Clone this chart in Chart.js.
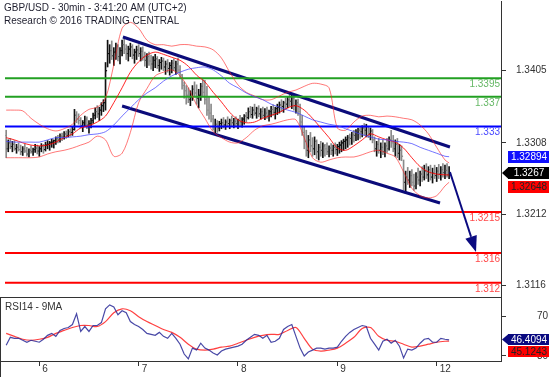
<!DOCTYPE html>
<html><head><meta charset="utf-8">
<script src="https://cdn.jsdelivr.net/npm/chart.js@4.4.1/dist/chart.umd.min.js"></script>
<style>
html,body{margin:0;padding:0;background:#fff;}
#wrap{position:relative;width:554px;height:377px;overflow:hidden;background:#fff;}
#c1{position:absolute;left:0;top:0;}
#c2{position:absolute;left:0;top:297px;}
</style></head><body>
<div id="wrap"><canvas id="c1" width="554" height="297"></canvas><canvas id="c2" width="554" height="80"></canvas></div>
<script>
// ---------- data ----------
const dayIdx = [16, 64, 112, 160, 208];
const dayLabels = ['6', '7', '8', '9', '12'];
const yTicksMain = [1.3116, 1.3212, 1.3308, 1.3405];
const yTicksRsi = [30, 70];
const firstOpen = 1.3318;
const hi = [
1.3325,1.3312,1.3314,1.3310,1.3311,1.3306,1.3308,1.3305,1.3303,1.3306,
1.3302,1.3300,1.3304,1.3301,1.3306,1.3305,1.3303,1.3307,1.3306,1.3309,
1.3311,1.3310,1.3313,1.3312,1.3316,1.3318,1.3320,1.3321,1.3323,1.3324,
1.3326,1.3327,1.3329,1.3353,1.3350,1.3347,1.3342,1.3338,1.3344,1.3343,
1.3338,1.3341,1.3348,1.3355,1.3358,1.3356,1.3362,1.3366,1.3416,1.3446,
1.3440,1.3445,1.3436,1.3442,1.3440,1.3436,1.3446,1.3447,1.3440,1.3438,
1.3442,1.3440,1.3434,1.3438,1.3440,1.3436,1.3437,1.3430,1.3428,1.3430,
1.3426,1.3424,1.3427,1.3424,1.3420,1.3423,1.3422,1.3418,1.3420,1.3416,
1.3419,1.3421,1.3418,1.3422,1.3412,1.3400,1.3390,1.3385,1.3382,1.3378,
1.3385,1.3390,1.3386,1.3380,1.3388,1.3393,1.3392,1.3384,1.3370,1.3360,
1.3345,1.3340,1.3338,1.3337,1.3340,1.3342,1.3339,1.3343,1.3340,1.3344,
1.3341,1.3343,1.3340,1.3345,1.3342,1.3346,1.3349,1.3355,1.3357,1.3356,
1.3360,1.3356,1.3358,1.3354,1.3356,1.3354,1.3356,1.3352,1.3357,1.3359,
1.3356,1.3360,1.3363,1.3366,1.3364,1.3368,1.3370,1.3375,1.3372,1.3371,
1.3366,1.3367,1.3360,1.3345,1.3330,1.3325,1.3318,1.3322,1.3315,1.3316,
1.3312,1.3306,1.3310,1.3308,1.3306,1.3308,1.3304,1.3307,1.3305,1.3308,
1.3306,1.3309,1.3311,1.3313,1.3316,1.3318,1.3320,1.3322,1.3325,1.3326,
1.3328,1.3330,1.3331,1.3334,1.3333,1.3330,1.3328,1.3326,1.3316,1.3310,
1.3314,1.3308,1.3312,1.3308,1.3314,1.3316,1.3325,1.3318,1.3312,1.3314,
1.3306,1.3304,1.3285,1.3270,1.3275,1.3270,1.3272,1.3266,1.3268,1.3274,
1.3270,1.3276,1.3278,1.3280,1.3276,1.3278,1.3274,1.3278,1.3275,1.3279,
1.3276,1.3280,1.3278,1.3280,1.3276];
const lo = [
1.3288,1.3296,1.3300,1.3296,1.3298,1.3294,1.3297,1.3292,1.3291,1.3295,
1.3290,1.3289,1.3294,1.3291,1.3295,1.3293,1.3290,1.3296,1.3294,1.3297,
1.3300,1.3298,1.3302,1.3301,1.3306,1.3308,1.3309,1.3311,1.3313,1.3314,
1.3316,1.3317,1.3318,1.3325,1.3335,1.3333,1.3328,1.3323,1.3330,1.3327,
1.3321,1.3328,1.3334,1.3340,1.3342,1.3338,1.3345,1.3350,1.3352,1.3410,
1.3415,1.3420,1.3412,1.3420,1.3418,1.3414,1.3425,1.3428,1.3420,1.3418,
1.3424,1.3421,1.3415,1.3420,1.3424,1.3418,1.3419,1.3411,1.3409,1.3412,
1.3407,1.3405,1.3409,1.3408,1.3404,1.3407,1.3405,1.3400,1.3403,1.3399,
1.3402,1.3405,1.3400,1.3402,1.3395,1.3380,1.3368,1.3360,1.3362,1.3358,
1.3365,1.3370,1.3360,1.3355,1.3365,1.3370,1.3360,1.3345,1.3340,1.3336,
1.3325,1.3321,1.3322,1.3324,1.3327,1.3328,1.3326,1.3330,1.3327,1.3331,
1.3328,1.3330,1.3327,1.3331,1.3329,1.3333,1.3336,1.3340,1.3342,1.3341,
1.3345,1.3341,1.3343,1.3340,1.3342,1.3339,1.3341,1.3337,1.3343,1.3345,
1.3340,1.3346,1.3348,1.3350,1.3349,1.3353,1.3355,1.3357,1.3354,1.3352,
1.3348,1.3345,1.3330,1.3318,1.3300,1.3290,1.3288,1.3296,1.3290,1.3292,
1.3287,1.3285,1.3290,1.3288,1.3290,1.3292,1.3289,1.3292,1.3290,1.3293,
1.3291,1.3294,1.3296,1.3298,1.3300,1.3302,1.3305,1.3306,1.3309,1.3311,
1.3312,1.3314,1.3316,1.3318,1.3316,1.3315,1.3312,1.3308,1.3296,1.3290,
1.3294,1.3288,1.3292,1.3289,1.3295,1.3298,1.3302,1.3296,1.3290,1.3288,
1.3285,1.3284,1.3245,1.3240,1.3252,1.3248,1.3250,1.3244,1.3246,1.3252,
1.3250,1.3256,1.3258,1.3260,1.3256,1.3258,1.3254,1.3260,1.3256,1.3260,
1.3258,1.3262,1.3260,1.3262,1.3260];
const cl = [
1.3300,1.3308,1.3303,1.3306,1.3300,1.3302,1.3299,1.3296,1.3300,1.3297,
1.3293,1.3298,1.3296,1.3299,1.3301,1.3297,1.3300,1.3304,1.3299,1.3305,
1.3306,1.3308,1.3309,1.3311,1.3314,1.3312,1.3317,1.3316,1.3320,1.3318,
1.3323,1.3322,1.3326,1.3345,1.3340,1.3338,1.3331,1.3335,1.3340,1.3332,
1.3334,1.3338,1.3345,1.3350,1.3347,1.3352,1.3358,1.3362,1.3405,1.3428,
1.3432,1.3425,1.3430,1.3438,1.3424,1.3432,1.3440,1.3434,1.3428,1.3434,
1.3437,1.3426,1.3430,1.3433,1.3428,1.3431,1.3424,1.3419,1.3424,1.3418,
1.3414,1.3419,1.3421,1.3412,1.3416,1.3418,1.3410,1.3414,1.3408,1.3412,
1.3415,1.3409,1.3414,1.3406,1.3399,1.3385,1.3378,1.3372,1.3366,1.3370,
1.3380,1.3375,1.3368,1.3372,1.3384,1.3376,1.3366,1.3352,1.3348,1.3340,
1.3330,1.3333,1.3328,1.3334,1.3335,1.3332,1.3336,1.3334,1.3338,1.3335,
1.3337,1.3334,1.3338,1.3336,1.3340,1.3344,1.3342,1.3350,1.3346,1.3352,
1.3348,1.3354,1.3347,1.3350,1.3345,1.3348,1.3344,1.3350,1.3353,1.3349,
1.3354,1.3356,1.3359,1.3357,1.3362,1.3360,1.3366,1.3364,1.3368,1.3358,
1.3362,1.3350,1.3336,1.3322,1.3310,1.3298,1.3312,1.3304,1.3300,1.3310,
1.3296,1.3302,1.3298,1.3304,1.3300,1.3296,1.3301,1.3298,1.3302,1.3299,
1.3303,1.3305,1.3308,1.3310,1.3312,1.3315,1.3314,1.3319,1.3318,1.3322,
1.3325,1.3323,1.3328,1.3325,1.3330,1.3320,1.3324,1.3312,1.3300,1.3306,
1.3298,1.3302,1.3296,1.3304,1.3300,1.3312,1.3308,1.3300,1.3306,1.3294,
1.3298,1.3290,1.3255,1.3262,1.3258,1.3264,1.3255,1.3250,1.3262,1.3258,
1.3266,1.3262,1.3270,1.3265,1.3272,1.3262,1.3268,1.3264,1.3270,1.3266,
1.3272,1.3268,1.3271,1.3265,1.3267];

// indicator samples (every 4 bars, last one at the final bar)
const bandIdx = [0,4,8,12,16,20,24,28,32,36,40,44,48,52,56,60,64,68,72,76,80,84,88,92,96,100,104,108,112,116,120,124,128,132,136,140,144,148,152,156,160,164,168,172,176,180,184,188,192,196,200,204,208,212,214];
const bbUpper = [
1.3352,1.3352,1.3351,1.3341,1.3333,1.3327,1.3324,1.3327,1.3333,1.3345,
1.3353,1.3356,1.3368,1.3413,1.3462,1.3470,1.3462,1.3446,1.3440,1.3440,
1.3438,1.3440,1.3440,1.3438,1.3437,1.3433,1.3422,1.3403,1.3386,1.3376,
1.3371,1.3366,1.3366,1.3371,1.3376,1.3379,1.3384,1.3388,1.3387,1.3382,
1.3328,1.3325,1.3336,1.3344,1.3345,1.3343,1.3344,1.3343,1.3341,1.3339,
1.3332,1.3320,1.3302,1.3285,1.3281];
const bbMiddle = [
1.3315,1.3312,1.3308,1.3305,1.3304,1.3305,1.3309,1.3315,1.3320,1.3328,
1.3331,1.3336,1.3344,1.3362,1.3382,1.3403,1.3417,1.3426,1.3430,1.3427,
1.3423,1.3419,1.3411,1.3399,1.3390,1.3376,1.3363,1.3349,1.3339,1.3335,
1.3336,1.3341,1.3345,1.3349,1.3355,1.3358,1.3352,1.3341,1.3328,1.3315,
1.3301,1.3298,1.3304,1.3312,1.3320,1.3316,1.3312,1.3309,1.3301,1.3288,
1.3276,1.3269,1.3266,1.3265,1.32648];
const bbLower = [
1.3288,1.3288,1.3288,1.3288,1.3289,1.3293,1.3296,1.3298,1.3301,1.3305,
1.3309,1.3317,1.3312,1.3290,1.3294,1.3322,1.3362,1.3381,1.3398,1.3403,
1.3406,1.3398,1.3382,1.3359,1.3341,1.3323,1.3315,1.3309,1.3308,1.3315,
1.3325,1.3331,1.3333,1.3336,1.3339,1.3339,1.3315,1.3288,1.3282,1.3285,
1.3288,1.3289,1.3289,1.3292,1.3296,1.3298,1.3294,1.3289,1.3269,1.3247,
1.3237,1.3234,1.3237,1.3250,1.3255];
const maLine = [
1.3310,1.3309,1.3309,1.3309,1.3309,1.3312,1.3315,1.3315,1.3316,1.3317,
1.3319,1.3320,1.3323,1.3332,1.3344,1.3355,1.3366,1.3375,1.3382,1.3391,
1.3398,1.3403,1.3407,1.3409,1.3410,1.3406,1.3398,1.3388,1.3382,1.3375,
1.3370,1.3366,1.3360,1.3356,1.3352,1.3349,1.3344,1.3339,1.3336,1.3333,
1.3331,1.3327,1.3323,1.3319,1.3316,1.3313,1.3312,1.3310,1.3309,1.3307,
1.3302,1.3298,1.3294,1.3290,1.32894];

// support / resistance levels
const levelValues = [1.3395, 1.337, 1.333, 1.3215, 1.316, 1.312];
const levelLabels = ['1.3395', '1.337', '1.333', '1.3215', '1.316', '1.312'];
// channel lines (bar index, price)
const channelUpper = [{x: 56.4, y: 1.34503}, {x: 214.4, y: 1.33024}];
const channelLower = [{x: 56.0, y: 1.33575}, {x: 209.6, y: 1.32272}];
// projected move arrow
const arrowFrom = {x: 214.4, y: 1.32688};
const arrowTo = {x: 227.0, y: 1.31613};

// RSI (every 2 bars) and its 9MA (every 4 bars, same sampling as bands)
const rsiStep = 2;
const rsi = [
41,49,48,48,46,44,46,45,44,47,
51,53,50,56,58,59,62,73,55,60,
55,61,61,64,78,82,80,72,76,74,
65,62,60,57,53,52,51,54,50,48,
53,48,42,32,27,38,36,43,38,36,
33,31,35,37,38,39,40,42,46,49,
52,51,48,51,44,45,48,57,60,62,
50,38,30,34,36,38,38,37,38,38,
39,45,50,54,57,59,61,60,48,42,
36,45,47,43,46,40,28,37,36,38,
43,47,48,44,44,48,47,46.4094];
const rsiMa = [
53,50,47,46,47,49,53,56,59,61,
61,60,65,74,78,76,70,65,61,57,
54,49,42,37,36,37,39,40,43,46,
49,51,52,52,56,59,48,37,35,36,
38,43,49,58,59,50,46,45,42,39,
40,42,44,45,45.1243];

// ---------- drawing ----------
const FONT = '"Liberation Sans", Arial, Helvetica, sans-serif';
Chart.defaults.font.family = FONT;
Chart.defaults.font.size = 10;
Chart.defaults.color = '#333';

const xMin = -0.57, xMax = 239.07;
const opens = cl.map((c, i) => i === 0 ? firstOpen : cl[i - 1]);
const barColors = cl.map((c, i) => c >= opens[i] ? '#111' : '#8a8a8a');
const pts = (xs, ys) => ys.map((v, k) => ({x: xs[k], y: v}));
const rsiIdx = rsi.map((v, k) => k * rsiStep);
const levelColors = ['#22a022', '#22a022', '#0000ff', '#ff0000', '#ff0000', '#ff0000'];
const levelTextColors = ['#66b866', '#66b866', '#4a4aff', '#ff4a4a', '#ff4a4a', '#ff4a4a'];

function noPad(s) { s.paddingTop = 0; s.paddingBottom = 0; s.paddingLeft = 0; s.paddingRight = 0; }

function box(ctx, text, yc, h, bg, fg, arrow) {
  const left = 508, right = 549;
  const top = Math.round(yc - h / 2);
  ctx.fillStyle = bg;
  ctx.fillRect(left, top, right - left, h);
  if (arrow) {
    ctx.beginPath();
    ctx.moveTo(502, top + h / 2);
    ctx.lineTo(left + 0.5, top);
    ctx.lineTo(left + 0.5, top + h);
    ctx.closePath();
    ctx.fill();
  }
  ctx.fillStyle = fg;
  ctx.font = '10px ' + FONT;
  ctx.textAlign = 'center';
  ctx.textBaseline = 'middle';
  ctx.fillText(text, (left + right) / 2 + 0.5, top + h / 2 + 0.5);
  return top + h;
}

const ohlcTicks = {
  id: 'ohlcTicks',
  afterDatasetDraw(chart, args) {
    if (args.index !== 0) return;
    const {ctx, scales: {x, y}, chartArea: a} = chart;
    ctx.save();
    ctx.beginPath(); ctx.rect(a.left, a.top, a.right - a.left, a.bottom - a.top); ctx.clip();
    for (let i = 0; i < cl.length; i++) {
      const px = x.getPixelForValue(i);
      ctx.fillStyle = barColors[i];
      ctx.fillRect(px - 1.5, y.getPixelForValue(opens[i]) - 0.5, 1, 1);
      ctx.fillRect(px + 0.5, y.getPixelForValue(cl[i]) - 0.5, 1, 1);
    }
    ctx.restore();
  }
};

const mainDecor = {
  id: 'mainDecor',
  afterDatasetsDraw(chart) {
    const {ctx, scales: {x, y}, chartArea: a} = chart;
    ctx.save();
    ctx.font = '10px ' + FONT;
    ctx.textAlign = 'right';
    ctx.textBaseline = 'alphabetic';
    levelValues.forEach((v, k) => {
      ctx.fillStyle = levelTextColors[k];
      ctx.fillText(levelLabels[k], a.right - 1, y.getPixelForValue(v) + 9);
    });
    const x0 = x.getPixelForValue(arrowFrom.x), y0 = y.getPixelForValue(arrowFrom.y);
    const x1 = x.getPixelForValue(arrowTo.x), y1 = y.getPixelForValue(arrowTo.y);
    const ang = Math.atan2(y1 - y0, x1 - x0);
    const hl = 16, hw = 6;
    const bx = x1 - hl * Math.cos(ang), by = y1 - hl * Math.sin(ang);
    ctx.strokeStyle = '#0a0a80';
    ctx.fillStyle = '#0a0a80';
    ctx.lineWidth = 2;
    ctx.beginPath(); ctx.moveTo(x0, y0); ctx.lineTo(bx, by); ctx.stroke();
    ctx.beginPath();
    ctx.moveTo(x1, y1);
    ctx.lineTo(bx + hw * Math.sin(ang), by - hw * Math.cos(ang));
    ctx.lineTo(bx - hw * Math.sin(ang), by + hw * Math.cos(ang));
    ctx.closePath(); ctx.fill();
    ctx.restore();
  },
  afterDraw(chart) {
    const {ctx, scales: {y}} = chart;
    ctx.save();
    ctx.font = '10px ' + FONT;
    ctx.fillStyle = '#1e1e2e';
    ctx.textAlign = 'left';
    ctx.textBaseline = 'alphabetic';
    ctx.fillText('GBP/USD - 30min - 3:41:20 AM (UTC+2)', 4, 11);
    ctx.fillText('Research \u00A9 2016 TRADING CENTRAL', 4, 24);
    const lastMa = maLine[maLine.length - 1];
    const lastCl = cl[cl.length - 1];
    const lastMid = bbMiddle[bbMiddle.length - 1];
    box(ctx, lastMa.toFixed(5), y.getPixelForValue(lastMa), 12, '#1010ff', '#fff', false);
    const bBottom = box(ctx, lastCl.toFixed(4), y.getPixelForValue(lastCl), 12, '#000', '#fff', true);
    box(ctx, lastMid.toFixed(5), bBottom + 2 + 6, 12, '#ff0000', '#222', false);
    ctx.restore();
  }
};

const lineDs = (data, color, width, extra) => Object.assign({
  type: 'line', data, borderColor: color, borderWidth: width, pointRadius: 0,
  fill: false, tension: 0.3, order: 1
}, extra || {});

new Chart(document.getElementById('c1'), {
  type: 'line',
  data: {
    datasets: [
      {type: 'bar', data: hi.map((h, i) => ({x: i, y: [lo[i], h]})), backgroundColor: barColors,
       barThickness: 1, borderWidth: 0, order: 10},
      lineDs(pts(bandIdx, maLine), 'rgba(70,70,255,0.75)', 1),
      lineDs(pts(bandIdx, bbUpper), 'rgba(255,30,30,0.6)', 1),
      lineDs(pts(bandIdx, bbLower), 'rgba(255,30,30,0.6)', 1),
      lineDs(pts(bandIdx, bbMiddle), 'rgba(255,0,0,0.85)', 1),
      ...levelValues.map((v, k) => lineDs([{x: xMin, y: v}, {x: xMax, y: v}], levelColors[k], 2, {tension: 0})),
      lineDs(channelUpper, '#0b0b7a', 3, {tension: 0}),
      lineDs(channelLower, '#0b0b7a', 3, {tension: 0})
    ]
  },
  options: {
    responsive: false, animation: false, events: [],
    layout: {padding: {left: 5, top: 1, bottom: 1, right: 0}},
    plugins: {legend: {display: false}, tooltip: {enabled: false}},
    scales: {
      x: {type: 'linear', min: xMin, max: xMax, display: false, offset: false},
      y: {
        position: 'right', min: 1.310213, max: 1.349869, beginAtZero: false,
        afterFit(s) { s.width = 53; noPad(s); },
        afterBuildTicks(s) { s.ticks = yTicksMain.map(v => ({value: v})); },
        ticks: {callback: v => Number(v).toFixed(4), crossAlign: 'near', padding: 10, color: '#333', font: {size: 10}},
        grid: {drawOnChartArea: false, drawTicks: true, tickLength: 5, color: '#333'},
        border: {display: true, color: '#333'}
      }
    }
  },
  plugins: [ohlcTicks, mainDecor]
});

const rsiDecor = {
  id: 'rsiDecor',
  afterDraw(chart) {
    const {ctx, scales: {y}, chartArea: a} = chart;
    ctx.save();
    ctx.strokeStyle = '#333';
    ctx.lineWidth = 1;
    ctx.beginPath();
    ctx.moveTo(0, 0.5); ctx.lineTo(a.right + 1, 0.5);
    ctx.moveTo(0, Math.round(a.bottom) + 0.5); ctx.lineTo(a.left, Math.round(a.bottom) + 0.5);
    ctx.moveTo(0.5, 0); ctx.lineTo(0.5, 80);
    ctx.stroke();
    ctx.font = '10px ' + FONT;
    ctx.fillStyle = '#333';
    ctx.textAlign = 'left';
    ctx.textBaseline = 'alphabetic';
    ctx.fillText('RSI14 - 9MA', 5, 13);
    const lastR = rsi[rsi.length - 1], lastM = rsiMa[rsiMa.length - 1];
    const bb = box(ctx, lastR.toFixed(4), y.getPixelForValue(lastR), 11, '#0a0a80', '#fff', true);
    box(ctx, lastM.toFixed(4), bb + 1 + 5.5, 11, '#ff0000', '#222', false);
    ctx.restore();
  }
};

new Chart(document.getElementById('c2'), {
  type: 'line',
  data: {
    datasets: [
      lineDs(pts(rsiIdx, rsi), 'rgba(40,40,150,0.85)', 1.2, {tension: 0}),
      lineDs(pts(bandIdx, rsiMa), 'rgba(255,30,30,0.85)', 1.2, {tension: 0.3})
    ]
  },
  options: {
    responsive: false, animation: false, events: [],
    layout: {padding: {left: 5, top: 1, bottom: 0, right: 0}},
    plugins: {legend: {display: false}, tooltip: {enabled: false}},
    scales: {
      x: {
        type: 'linear', min: xMin, max: xMax, offset: false, position: 'bottom',
        afterFit(s) { s.height = 16; noPad(s); },
        afterBuildTicks(s) { s.ticks = dayIdx.map(v => ({value: v})); },
        ticks: {autoSkip: false, maxRotation: 0, align: 'start', labelOffset: 3, padding: -3,
                callback: v => dayLabels[dayIdx.indexOf(v)], color: '#333', font: {size: 10}},
        grid: {drawOnChartArea: false, drawTicks: true, tickLength: 5, color: '#333'},
        border: {display: true, color: '#333'}
      },
      y: {
        position: 'right', min: 24.9, max: 89.0,
        afterFit(s) { s.width = 53; noPad(s); },
        afterBuildTicks(s) { s.ticks = yTicksRsi.map(v => ({value: v})); },
        ticks: {crossAlign: 'near', padding: 31, color: '#333', font: {size: 10}},
        grid: {drawOnChartArea: false, drawTicks: true, tickLength: 5, color: '#333'},
        border: {display: true, color: '#333'}
      }
    }
  },
  plugins: [rsiDecor]
});
</script>
</body></html>
